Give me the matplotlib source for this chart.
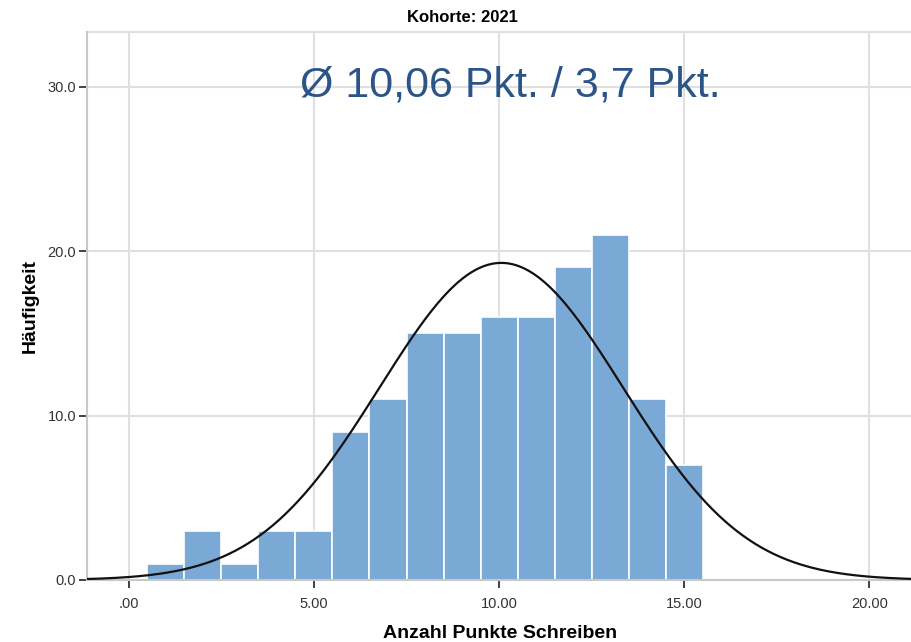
import numpy as np
import matplotlib.pyplot as plt

plt.rcParams['font.family'] = ['Liberation Sans', 'DejaVu Sans']

# histogram bins (width 1) and counts
bin_left = [0.5, 1.5, 2.5, 3.5, 4.5, 5.5, 6.5, 7.5, 8.5, 9.5, 10.5, 11.5, 12.5, 13.5, 14.5]
counts = [1, 3, 1, 3, 3, 9, 11, 15, 15, 16, 16, 19, 21, 11, 7]
bin_width = 1.0

# normal curve as drawn
curve_mean = 10.06
curve_sd = 3.29
curve_n = 159

xticks = [0, 5, 10, 15, 20]
xtick_labels = ['.00', '5.00', '10.00', '15.00', '20.00']
yticks = [0, 10, 20, 30]
ytick_labels = ['0.0', '10.0', '20.0', '30.0']

fig = plt.figure(figsize=(9.12, 6.42), dpi=100)
ax = fig.add_axes([0.0957, 0.0966, 0.9043, 0.8531])

ax.bar(bin_left, counts, width=bin_width, align='edge', color='#7BA9D6',
       edgecolor='white', linewidth=1.2, zorder=2)

xs = np.linspace(-1.2, 21.2, 400)
ys = curve_n * bin_width / (curve_sd * np.sqrt(2 * np.pi)) * np.exp(-0.5 * ((xs - curve_mean) / curve_sd) ** 2)
ax.plot(xs, ys, color='#111111', linewidth=1.6, zorder=3)

ax.set_xlim(-1.12, 21.15)
ax.set_ylim(0, 33.3)
ax.set_xticks(xticks)
ax.set_xticklabels(xtick_labels)
ax.set_yticks(yticks)
ax.set_yticklabels(ytick_labels)
ax.grid(True, color='#E0E0E0', linewidth=1.5, zorder=0)
ax.set_axisbelow(True)

for side in ['top', 'right']:
    ax.spines[side].set_visible(False)
for side in ['left', 'bottom']:
    ax.spines[side].set_color('#C8C8C8')
    ax.spines[side].set_linewidth(1.5)
ax.plot([-1.12, 21.15], [33.3, 33.3], color='#E0E0E0', linewidth=1.5, clip_on=False, zorder=1)

ax.tick_params(axis='both', labelsize=10.5, labelcolor='#333333', color='#333333', length=6, width=1.3)
ax.tick_params(axis='x', pad=6)
ax.tick_params(axis='y', pad=2)

ax.set_xlabel('Anzahl Punkte Schreiben', fontsize=14, fontweight='bold', labelpad=10)
ax.set_ylabel('Häufigkeit', fontsize=14, fontweight='bold', labelpad=6)

fig.text(462 / 912, 1 - 18 / 642, 'Kohorte: 2021', fontsize=12, fontweight='bold',
         ha='center', va='center')
fig.text(510 / 912, 1 - 97 / 642, 'Ø 10,06 Pkt. / 3,7 Pkt.', fontsize=31,
         color='#2B5487', ha='center', va='baseline')

fig.savefig('out.png', dpi=100)
